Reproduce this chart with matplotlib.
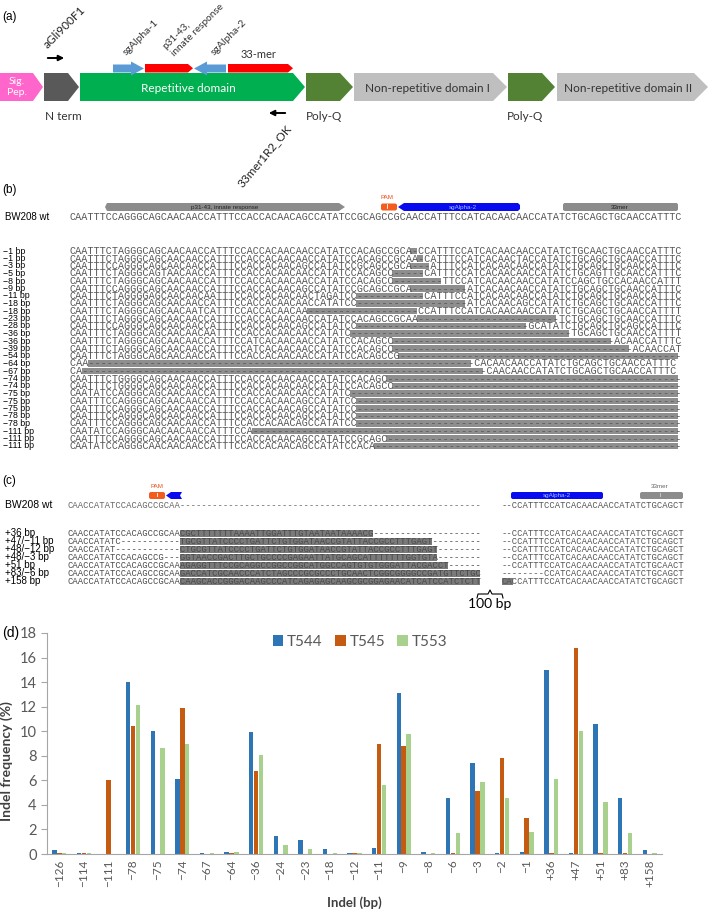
import numpy as np
import matplotlib.pyplot as plt
from matplotlib.patches import Polygon, Rectangle, FancyBboxPatch

# ---------------- panel (d) data: indel frequency (%) ----------------
indels = ["−126", "−114", "−111", "−78", "−75", "−74", "−67", "−64", "−36", "−24",
          "−23", "−18", "−12", "−11", "−9", "−8", "−6", "−3", "−2", "−1",
          "+36", "+47", "+51", "+83", "+158"]
t544 = [0.35, 0.05, 0.0, 14.0, 10.0, 6.1, 0.05, 0.2, 9.9, 1.45,
        1.1, 0.4, 0.1, 0.5, 13.1, 0.2, 4.6, 7.4, 0.05, 0.2,
        15.0, 0.05, 10.6, 4.6, 0.3]
t545 = [0.1, 0.05, 6.0, 10.45, 0.0, 11.9, 0.0, 0.1, 6.8, 0.0,
        0.0, 0.0, 0.05, 9.0, 8.8, 0.0, 0.05, 5.1, 7.8, 2.9,
        0.05, 16.8, 0.05, 0.05, 0.0]
t553 = [0.1, 0.05, 0.0, 12.15, 8.65, 9.0, 0.05, 0.15, 8.05, 0.7,
        0.4, 0.1, 0.05, 5.6, 9.8, 0.1, 1.7, 5.9, 4.6, 1.8,
        6.1, 10.0, 4.2, 1.7, 0.1]

# ---------------- panel (b) alignment ----------------
WT_L = "CAATTTCCAGGGCAGCAACAACCATTTCCACCACAACAGCCATATCCGCAG"
WT_R = "CCGCAACCATTTCCATCACAACAACCATATCTGCAGCTGCAACCATTTC"
T_L = "CAATTTCTAGGGCAGCAACAACCATTTCCACCACAACAACCATATCCACAG"
b_wt = WT_L + WT_R
b_labels = ["−1 bp", "−1 bp", "−3 bp", "−5 bp", "−8 bp", "−9 bp", "−11 bp",
            "−18 bp", "−18 bp", "−23 bp", "−28 bp", "−36 bp", "−36 bp", "−39 bp",
            "−54 bp", "−64 bp", "−67 bp", "−74 bp", "−74 bp", "−75 bp", "−75 bp",
            "−75 bp", "−78 bp", "−78 bp", "−111 bp", "−111 bp", "−111 bp"]
b_rows = [
    T_L + "CCGCA-CCATTTCCATCACAACAACCATATCTGCAACTGCAACCATTTC",
    T_L + "CCGCAA-CATTTCCATCACAACTACCATATCTGCAGCTGCAACCATTTC",
    WT_L + "CCGCA---ATTTCCATCACAACAACCATATCTGCAGCTGCAACCATTTC",
    "CAATTTCTAGGGCAGTAACAACCATTTCCACCACAACAACCATATCCACAG" + "CC-----CATTTCCATCACAACAACCATATCTGCAGTTGCAACCATTTC",
    T_L + "CC--------TTCCATCACAACAACCATATCCAGCTGCCACAACCATTT",
    WT_L + "CCGCA---------ATCACAACAACCATATCTGCAGCTGCAACCATTTC",
    "CAATTTCTAGGGGAGCAACAACAATTTCCACCACAACAACTAGATCC----" + "-------CATTTCCATCACAACAACCATATCTGCAGCTGCAACCATTTC",
    "CAATTTCTAGGGCAGCAACAACCATTTCCACCACAACAACCATATCC----" + "--------------ATCACAACAGCCATATCTGCAGCTGCAACCATTTC",
    "CAATTTCTAGGGCAGCAACAATCATTTCCACCACAACAA------------" + "------CCATTTCCATCACAACAACCATATCTGCAGCTGCAACCATTTT",
    T_L + "CCGCAA-----------------------TCTGCAGCTGCAACCATTTC",
    WT_L[:47] + "----" + "------------------------GCATATCTGCAGCTGCAGCCATTTC",
    "CAATTTCTAGGGCAGCAACAACAATTTCCACCACAACAACCATATC-----" + "-------------------------------TGCAGCTGCAACCATTTT",
    "CAATTTCTAGGGCAGCAACAACCATTTCCATCACAACAACCATATCCACAG" + "CC------------------------------------ACAACCATTTC",
    "CAATTTCTAGGGCAGCAACAACCATTTCCATCACAACAACCATATCCACAG" + "CC---------------------------------------ACAACCAT",
    T_L + "CCG" + "-" * 46,
    "CAA" + "-" * 48 + "---------------CACAACAACCATATCTGCAGCTGCAACCATTTC",
    "CA" + "-" * 49 + "-----------------CAACAACCATATCTGCAGCTGCAACCATTTC",
    "CAATTTCTGGGGCAGCAACAACCATTTCCACCACAACAACCATATCCACAG" + "C" + "-" * 48,
    "CAATTTCTGGGGCAGCAACAACCATTTCCACCACAACAACCATATCCACAG" + "CC" + "-" * 47,
    "CAATATCCAGGGCAGCAACAACCATTTCCACCACAACAACCATATC" + "-" * 54,
    WT_L[:47] + "-" * 53,
    WT_L[:47] + "-" * 53,
    WT_L[:47] + "-" * 53,
    WT_L[:47] + "-" * 53,
    "CAATATCCAGGGCAACAACAACCATTTCCA" + "-" * 70,
    WT_L + "C" + "-" * 48,
    "CAATATCCAGGGCAACAACAACCATTTCCACCACAACAGCCATATCCACA" + "-" * 50,
]

# ---------------- panel (c) insertions ----------------
C_L = "CAACCATATCCACAGCCGCAA"
C_R = "--CCATTTCCATCACAACAACCATATCTGCAGCT"
c_wt = C_L + "-" * 56
c_labels = ["+36 bp", "+47/−11 bp", "+48/−12 bp", "+48/−3 bp", "+51 bp", "+83/−6 bp", "+158 bp"]
c_left = [
    C_L + "CGCTTTTTTTAAAATTGGATTTGTAATAATAAAACG" + "-" * 20,
    "CAACCATATC" + "-" * 11 + "TGCGTTATCCCCTGATTCTGTGGATAACCGTATTACCGCCTTTGAGT" + "-" * 9,
    "CAACCATAT" + "-" * 12 + "CTGCGTTATCCCCTGATTCTGTGGATAACCGTATTACCGCCTTTGAGT" + "-" * 8,
    "CAACCATATCCACAGCCG" + "---" + "GGTAACCGACTTGCTGCCCCGAGAATTATGCAGCATTTTTTTGGTGTA" + "-" * 8,
    C_L + "AGAGGTTTCCGCAGGCCGGCCGGCATGGCCAGTGTGTGGGATTACGACCT" + "-" * 6,
    C_L + "GACCATCGCAACCCATCTAGCCCGCGCCCTGCAACTCGGCGGGGCCGATGTTCTGC",
    C_L + "CAAGCACCGGGACAAGCCCATCAGAGAGCAAGCGCGGAGAACATCATCCATCTCTTC",
]
c_ins = [(21, 57), (21, 68), (21, 69), (21, 69), (21, 71), (21, 77), (21, 77)]
c_right = [C_R, C_R, C_R, C_R, "--CCATTTCCATCACAACAACCATATCTGCAACT",
           "--------CCATCACAACAACCATATCTGCAGCT", "CACCATTTCCATCACAACAACCATATCTGCAGCT"]

W, H = 709, 914
fig = plt.figure(figsize=(W / 100, H / 100), dpi=100)
ax = fig.add_axes([0, 0, 1, 1])
ax.set_xlim(0, W)
ax.set_ylim(H, 0)
ax.axis("off")

UI = ["Lato", "DejaVu Sans"]
SANS = ["Liberation Sans", "DejaVu Sans"]
MONO = "Liberation Mono"


def block(x0, x1, tip, y0, y1, color):
    ym = (y0 + y1) / 2
    ax.add_patch(Polygon([(x0, y0), (x1 - tip, y0), (x1, ym), (x1 - tip, y1), (x0, y1)],
                         closed=True, color=color, lw=0))


def dash_runs(s):
    runs, start = [], None
    for i, ch in enumerate(s + " "):
        if ch == "-" and start is None:
            start = i
        elif ch != "-" and start is not None:
            runs.append((start, i))
            start = None
    return runs


def seq_text(x0, y, s, cw, fs, spans=(), box="#8e8e8e", bh=6.4, color="#555555"):
    for a, b in spans:
        ax.add_patch(Rectangle((x0 + a * cw, y - bh / 2), (b - a) * cw, bh, color=box, lw=0))
    ax.text(x0, y, s, fontfamily=MONO, fontsize=fs, color=color, ha="left", va="center")


# ================= panel (a) =================
ax.text(2, 17, "(a)", fontsize=8.5, family=SANS, va="center")
y0, y1 = 73, 101
block(0, 43, 10, y0, y1, "#FF66CC")
block(44, 79, 11, y0, y1, "#595959")
block(80, 305, 12, y0, y1, "#00B050")
block(306, 353, 13, y0, y1, "#548235")
block(354, 507, 14, y0, y1, "#BFBFBF")
block(508, 555, 13, y0, y1, "#548235")
block(557, 708, 14, y0, y1, "#BFBFBF")
ax.text(17, 87, "Sig.\nPep.", color="white", fontsize=7.5, family=UI, ha="center", va="center",
        linespacing=1.3)
ax.text(188, 88, "Repetitive domain", color="white", fontsize=8.5, family=UI, ha="center", va="center")
ax.text(427, 88, "Non-repetitive domain I", color="#333333", fontsize=8.5, family=UI,
        ha="center", va="center")
ax.text(628, 88, "Non-repetitive domain II", color="#333333", fontsize=8.5, family=UI,
        ha="center", va="center")
for x, s in [(45, "N term"), (306, "Poly-Q"), (507, "Poly-Q")]:
    ax.text(x, 116, s, fontsize=8.5, family=UI, color="#333333", ha="left", va="center")

# guides and epitopes above the repetitive domain
blue = "#5B9BD5"
ax.add_patch(Polygon([(113, 64.5), (131, 64.5), (131, 61.5), (144, 68.5), (131, 75.5),
                      (131, 72.5), (113, 72.5)], color=blue, lw=0))
ax.add_patch(Polygon([(226, 64.5), (207, 64.5), (207, 61.5), (194, 68.5), (207, 75.5),
                      (207, 72.5), (226, 72.5)], color=blue, lw=0))
block(145, 193, 5, 64, 72.5, "#FF0000")
block(228, 293, 5, 64, 72.5, "#FF0000")
rot = dict(rotation=45, rotation_mode="anchor", family=UI, ha="left", va="bottom", color="#333333")
ax.text(128, 57, "sgAlpha-1", fontsize=7.5, **rot)
ax.text(167, 51, "p31-43,", fontsize=7.2, **rot)
ax.text(176, 58, "innate response", fontsize=7.2, **rot)
ax.text(216, 57, "sgAlpha-2", fontsize=7.5, **rot)
ax.text(259, 54, "33-mer", fontsize=8, family=UI, ha="center", va="center", color="#333333")

# primers
ax.annotate("", xy=(67, 58), xytext=(45, 58),
            arrowprops=dict(arrowstyle="-|>", color="black", lw=1.4, mutation_scale=8))
ax.text(49, 50, "aGli900F1", rotation=45, rotation_mode="anchor", fontsize=8.5, family=UI,
        ha="left", va="bottom", color="#222222")
ax.annotate("", xy=(266, 113), xytext=(288, 113),
            arrowprops=dict(arrowstyle="-|>", color="black", lw=1.4, mutation_scale=8))
ax.text(285, 123, "33mer1R2_OK", rotation=50, rotation_mode="anchor", fontsize=8.5, family=UI,
        ha="right", va="top", color="#222222")

# ================= panel (b) =================
XB, CWB, FSB = 70, 6.08, 7.3
ax.text(2, 190, "(b)", fontsize=8.5, family=SANS, va="center")
# feature annotations above the reference
ax.add_patch(Polygon([(107, 203), (339, 203), (345, 207), (339, 211), (107, 211), (105, 207)],
                     color="#8C8C8C", lw=0))
ax.text(225, 207, "p31-43, innate response", fontsize=4.5, family=SANS, color="#222222",
        ha="center", va="center")
ax.add_patch(FancyBboxPatch((381, 203.5), 16, 7, boxstyle="round,pad=0,rounding_size=2",
                            color="#F25C1F", lw=0))
ax.plot([387, 387], [204, 208], color="white", lw=0.6)
ax.text(387, 197.5, "PAM", fontsize=4.5, family=SANS, color="#E8501A", ha="center", va="center")
ax.add_patch(Polygon([(398, 207), (404, 203), (518, 203), (520, 205), (520, 209), (518, 211),
                      (404, 211)], color="#0A0AF0", lw=0))
ax.text(463, 207.5, "sgAlpha-2", fontsize=4.5, family=SANS, color="#9FC0FF", ha="center", va="center")
ax.add_patch(FancyBboxPatch((563, 203), 115, 8, boxstyle="round,pad=0,rounding_size=2",
                            color="#8C8C8C", lw=0))
ax.text(620, 207.3, "33mer", fontsize=4.5, family=SANS, color="#222222", ha="center", va="center")

ax.text(5, 217, "BW208 wt", fontsize=7, family=SANS, va="center")
seq_text(XB, 217, b_wt, CWB, FSB)
for i, (lab, row) in enumerate(zip(b_labels, b_rows)):
    y = 251 + 7.5 * i
    row = row.ljust(100)[:100]
    ax.text(3, y, lab, fontsize=6.3, family=SANS, va="center")
    seq_text(XB, y, row, CWB, FSB, spans=dash_runs(row))

# ================= panel (c) =================
XC, CWC, FSC, XCR = 68, 5.35, 6.42, 502
ax.text(2, 481, "(c)", fontsize=8.5, family=SANS, va="center")
ax.add_patch(FancyBboxPatch((149, 492), 16, 7, boxstyle="round,pad=0,rounding_size=2",
                            color="#F25C1F", lw=0))
ax.plot([157, 157], [492.5, 496], color="white", lw=0.6)
ax.text(157, 487, "PAM", fontsize=4.5, family=SANS, color="#E8501A", ha="center", va="center")
ax.add_patch(Polygon([(166, 495.5), (171, 492), (182, 492), (180, 495.5), (182, 499), (171, 499)],
                     color="#0A0AF0", lw=0))
ax.add_patch(FancyBboxPatch((511, 492), 92, 7, boxstyle="round,pad=0,rounding_size=2",
                            color="#0A0AF0", lw=0))
ax.text(557, 495.8, "sgAlpha-2", fontsize=4.5, family=SANS, color="#9FC0FF", ha="center", va="center")
ax.add_patch(FancyBboxPatch((640, 492), 43, 7, boxstyle="round,pad=0,rounding_size=2",
                            color="#8C8C8C", lw=0))
ax.plot([660, 660], [492.5, 496], color="#D0D0D0", lw=0.6)
ax.text(660, 487, "33mer", fontsize=4.5, family=SANS, color="#666666", ha="center", va="center")

ax.text(5, 505, "BW208 wt", fontsize=7.5, family=SANS, va="center")
seq_text(XC, 505, c_wt, CWC, FSC, color="#666666")
seq_text(XCR, 505, C_R, CWC, FSC)
for i, lab in enumerate(c_labels):
    y = 533 + 8 * i
    ax.text(5, y, lab, fontsize=7, family=SANS, va="center")
    seq_text(XC, y, c_left[i].ljust(77)[:77], CWC, FSC, spans=[c_ins[i]], box="#7A7A7A", bh=7,
             color="#4a4a4a")
    right_spans = [(0, 2)] if c_labels[i] == "+158 bp" else []
    seq_text(XCR, y, c_right[i], CWC, FSC, spans=right_spans, box="#7A7A7A", bh=7)

# 100 bp bracket
ax.plot([477, 478, 488, 490, 492, 502, 503], [598, 594, 594, 590, 594, 594, 598], color="black", lw=0.8)
ax.text(490, 604, "100 bp", fontsize=10, family=UI, ha="center", va="center")

# ================= panel (d) =================
ax.text(2, 633, "(d)", fontsize=10, family=SANS, va="center")
axd = fig.add_axes([47 / W, 1 - 854 / H, 615 / W, 221 / H])
x = np.arange(len(indels))
bw = 0.18
axd.bar(x - 0.2, t544, bw, color="#2E75B6", label="T544")
axd.bar(x, t545, bw, color="#C55A11", label="T545")
axd.bar(x + 0.2, t553, bw, color="#A9D18E", label="T553")
axd.set_xlim(-0.5, len(indels) - 0.5)
axd.set_ylim(0, 18)
axd.set_yticks(np.arange(0, 19, 2))
axd.set_xticks(x)
axd.set_xticklabels(indels, rotation=90, family=UI, fontsize=8.5, color="#595959")
for lab in axd.get_yticklabels():
    lab.set_family(UI)
axd.tick_params(axis="y", labelsize=10.5, colors="#595959", length=4, color="#A6A6A6")
axd.tick_params(axis="x", length=0, pad=4)
for s in ["top", "right"]:
    axd.spines[s].set_visible(False)
for s in ["left", "bottom"]:
    axd.spines[s].set_color("#A6A6A6")
    axd.spines[s].set_linewidth(0.8)
axd.set_ylabel("Indel frequency (%)", family=UI, fontsize=10, fontweight="bold", color="#404040")
axd.yaxis.set_label_coords(-0.055, 0.42)
fig.text(354 / W, 1 - 903 / H, "Indel (bp)", family=UI, fontsize=9.5, fontweight="bold",
         color="#404040", ha="center", va="center")
axd.legend(loc="upper center", bbox_to_anchor=(0.509, 1.055), ncol=3, frameon=False,
           handlelength=0.7, handleheight=0.7, handletextpad=0.25, columnspacing=0.8,
           prop={"family": UI, "size": 11})
for t in axd.get_legend().get_texts():
    t.set_color("#595959")

fig.savefig("out.png", dpi=100)
